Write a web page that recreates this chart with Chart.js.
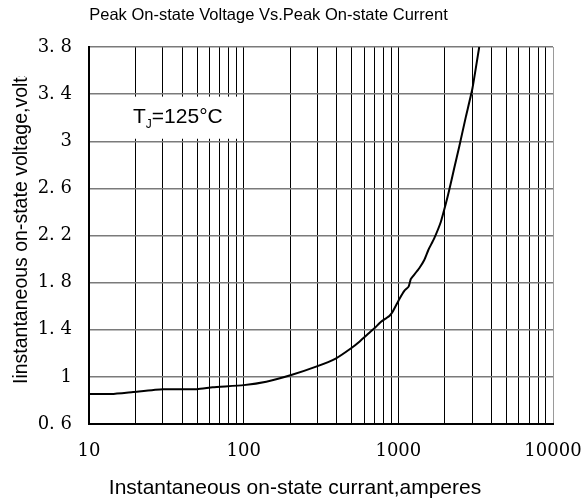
<!DOCTYPE html>
<html><head><meta charset="utf-8">
<script src="https://cdn.jsdelivr.net/npm/chart.js@4"></script>
<style>html,body{margin:0;padding:0;background:#fff}#wrap{width:583px;height:504px}</style>
</head><body><div id="wrap"><canvas id="c" width="583" height="504"></canvas></div>
<script>
const chartTitle = 'Peak On-state Voltage Vs.Peak On-state Current';
const xAxisTitle = 'Instantaneous on-state currant,amperes';
const yAxisTitle = 'Iinstantaneous on-state voltage,volts';
const noteMain = 'T';
const noteSub = 'J';
const noteRest = '=125°C';

const current = [10, 14, 19.3, 30, 50, 63, 100, 140, 203, 294, 396, 495, 560, 650, 700, 773, 833, 875, 919, 1014, 1093, 1165, 1203, 1236, 1365, 1471, 1563, 1706, 1884, 2031, 2133, 2297, 2475, 2734, 3015, 3334];
const voltage = [0.855, 0.855, 0.872, 0.895, 0.895, 0.911, 0.93, 0.959, 1.016, 1.087, 1.158, 1.243, 1.299, 1.375, 1.412, 1.468, 1.497, 1.517, 1.553, 1.659, 1.73, 1.766, 1.83, 1.85, 1.922, 1.992, 2.077, 2.176, 2.317, 2.473, 2.586, 2.77, 2.954, 3.209, 3.45, 3.8];

const xGridValues = [10,20,30,40,50,60,70,80,90,100,200,300,400,500,600,700,800,900,1000,2000,3000,4000,5000,6000,7000,8000,9000,10000];
const xLabelValues = [10, 100, 1000, 10000];
const xLabelTexts = ['10', '100', '1000', '10000'];
const yTickValues = [0.6, 1, 1.4, 1.8, 2.2, 2.6, 3, 3.4, 3.8];
const yTickLabels = ['0. 6', '1', '1. 4', '1. 8', '2. 2', '2. 6', '3', '3. 4', '3. 8'];

const points = current.map((c, i) => ({x: c, y: voltage[i]}));

const decor = {
  id: 'decor',
  beforeDatasetsDraw(chart) {
    const ctx = chart.ctx, xs = chart.scales.x, ys = chart.scales.y;
    const top = ys.getPixelForValue(3.4) + 2.5, bot = ys.getPixelForValue(3.0) - 2.5;
    const left = chart.chartArea.left + 1.5, right = xs.getPixelForValue(100) - 2;
    ctx.save();
    ctx.fillStyle = '#fff';
    ctx.fillRect(left, top, right - left, bot - top);
    ctx.fillStyle = '#000';
    ctx.textBaseline = 'alphabetic';
    ctx.textAlign = 'left';
    let x = 133, y = 123;
    ctx.font = '21px "Liberation Sans", Arial, sans-serif';
    ctx.fillText(noteMain, x, y);
    x += ctx.measureText(noteMain).width;
    ctx.font = '12px "Liberation Sans", Arial, sans-serif';
    ctx.fillText(noteSub, x, y + 5);
    x += ctx.measureText(noteSub).width;
    ctx.font = '21px "Liberation Sans", Arial, sans-serif';
    ctx.fillText(noteRest, x, y);
    ctx.restore();
  },
  afterDraw(chart) {
    const ctx = chart.ctx;
    ctx.save();
    ctx.fillStyle = '#000';
    ctx.textAlign = 'center';
    ctx.textBaseline = 'alphabetic';
    ctx.font = '16.5px "Liberation Sans", Arial, sans-serif';
    ctx.fillText(chartTitle, 268.5, 19.5);
    ctx.font = '21px "Liberation Sans", Arial, sans-serif';
    ctx.fillText(xAxisTitle, 295, 494);
    ctx.save();
    ctx.beginPath();
    ctx.rect(0, 76, 60, 430);
    ctx.clip();
    ctx.translate(27, 384);
    ctx.rotate(-Math.PI / 2);
    ctx.textAlign = 'left';
    ctx.font = '19.5px "Liberation Sans", Arial, sans-serif';
    ctx.fillText(yAxisTitle, 0, 0);
    ctx.restore();
    ctx.restore();
  }
};

new Chart(document.getElementById('c'), {
  type: 'line',
  data: {
    datasets: [{
      data: points,
      borderColor: '#000',
      borderWidth: 2,
      pointRadius: 0,
      tension: 0.15,
      fill: false
    }]
  },
  options: {
    responsive: false,
    animation: false,
    devicePixelRatio: 1,
    layout: {padding: {top: 47, right: 30, bottom: 0, left: 0}},
    plugins: {legend: {display: false}, title: {display: false}, tooltip: {enabled: false}},
    scales: {
      x: {
        type: 'logarithmic',
        min: 10, max: 10000,
        afterBuildTicks: s => { s.ticks = xGridValues.map(v => ({value: v})); },
        afterFit: s => { s.height = 80; },
        ticks: {
          autoSkip: false, maxRotation: 0, padding: 0, color: '#000',
          font: {family: '"DejaVu Serif", serif', size: 18},
          callback: v => { const i = xLabelValues.indexOf(v); return i >= 0 ? xLabelTexts[i] : ''; }
        },
        grid: {
          drawTicks: true, tickLength: 17, tickColor: 'rgba(0,0,0,0)', lineWidth: 1,
          color: c => (c.tick && c.tick.value === 10000) ? '#9a9a9a' : '#000'
        },
        border: {color: '#000', width: 2}
      },
      y: {
        type: 'linear',
        min: 0.6, max: 3.8,
        afterBuildTicks: s => { s.ticks = yTickValues.map(v => ({value: v})); },
        afterFit: s => { s.width = 89; },
        ticks: {
          padding: 17, color: '#000',
          font: {family: '"DejaVu Serif", serif', size: 18},
          callback: (v, i) => yTickLabels[i]
        },
        grid: {drawTicks: false, lineWidth: 1.5, color: '#7a7a7a'},
        border: {color: '#000', width: 2}
      }
    }
  },
  plugins: [decor]
});
</script>
</body></html>
